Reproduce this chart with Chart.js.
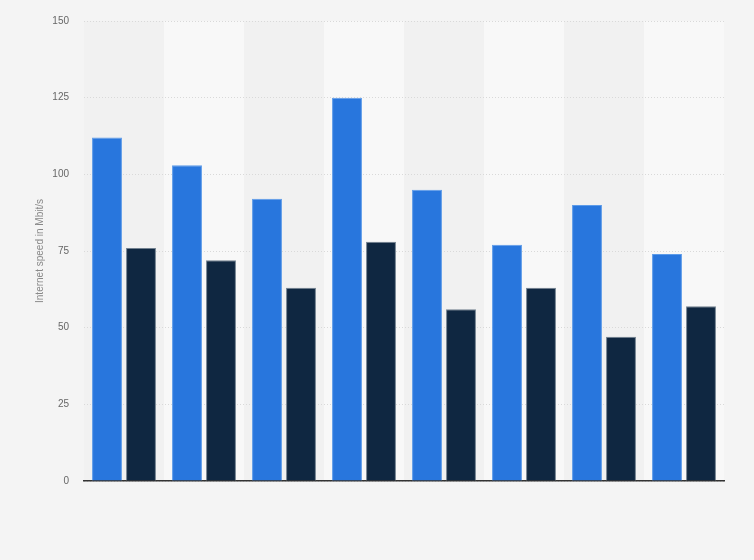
<!DOCTYPE html>
<html>
<head>
<meta charset="utf-8">
<script src="https://cdn.jsdelivr.net/npm/chart.js@4/dist/chart.umd.min.js"></script>
<style>
  html, body { margin: 0; padding: 0; background: #f4f4f4; }
  #wrap { width: 754px; height: 560px; }
</style>
</head>
<body>
<div id="wrap"><canvas id="chart"></canvas></div>
<script>
// Data (x labels are not shown in the original)
const categories = ['Category 1', 'Category 2', 'Category 3', 'Category 4', 'Category 5', 'Category 6', 'Category 7', 'Category 8'];
const seriesA = [112, 103, 92, 125, 95, 77, 90, 74];
const seriesB = [76, 72, 63, 78, 56, 63, 47, 57];
const yTicks = [0, 25, 50, 75, 100, 125, 150];

// Alternating column shading behind the bars
const bandPlugin = {
    id: 'bands',
    beforeDraw(chart) {
        const { ctx, chartArea, scales } = chart;
        const x = scales.x;
        ctx.save();
        categories.forEach((c, i) => {
            const center = x.getPixelForValue(i);
            const half = (x.getPixelForValue(1) - x.getPixelForValue(0)) / 2;
            ctx.fillStyle = i % 2 === 0 ? '#f1f1f1' : '#f8f8f8';
            ctx.fillRect(center - half, chartArea.top, half * 2, chartArea.bottom - chartArea.top);
        });
        ctx.restore();
    }
};

new Chart(document.getElementById('chart'), {
    type: 'bar',
    data: {
        labels: categories,
        datasets: [{
            label: 'Series 1',
            data: seriesA,
            backgroundColor: '#2876dd',
            borderColor: '#5c9be9',
            borderWidth: 1,
            categoryPercentage: 0.85,
            barPercentage: 0.88
        }, {
            label: 'Series 2',
            data: seriesB,
            backgroundColor: '#0f2741',
            borderColor: '#71808f',
            borderWidth: 1,
            categoryPercentage: 0.85,
            barPercentage: 0.88
        }]
    },
    options: {
        responsive: true,
        maintainAspectRatio: false,
        animation: false,
        layout: { padding: { top: 15, right: 30, bottom: 79, left: 0 } },
        plugins: {
            legend: { display: false },
            tooltip: { enabled: false }
        },
        scales: {
            x: {
                ticks: { display: false },
                grid: { display: false, drawTicks: false },
                border: { display: true, color: '#333333', width: 1.5 }
            },
            y: {
                min: 0,
                max: 150,
                afterBuildTicks: scale => { scale.ticks = yTicks.map(v => ({ value: v })); },
                afterFit: scale => { scale.width = 84; },
                ticks: {
                    color: '#666666',
                    padding: 15,
                    font: { family: 'Liberation Sans', size: 10 }
                },
                grid: {
                    color: '#d9d9d9',
                    drawTicks: false
                },
                border: { display: false, dash: [1, 2] },
                title: {
                    display: true,
                    text: 'Internet speed in Mbit/s',
                    color: '#888888',
                    padding: { top: 34, bottom: 0 },
                    font: { family: 'Liberation Sans', size: 10 }
                }
            }
        }
    },
    plugins: [bandPlugin]
});
</script>
</body>
</html>
